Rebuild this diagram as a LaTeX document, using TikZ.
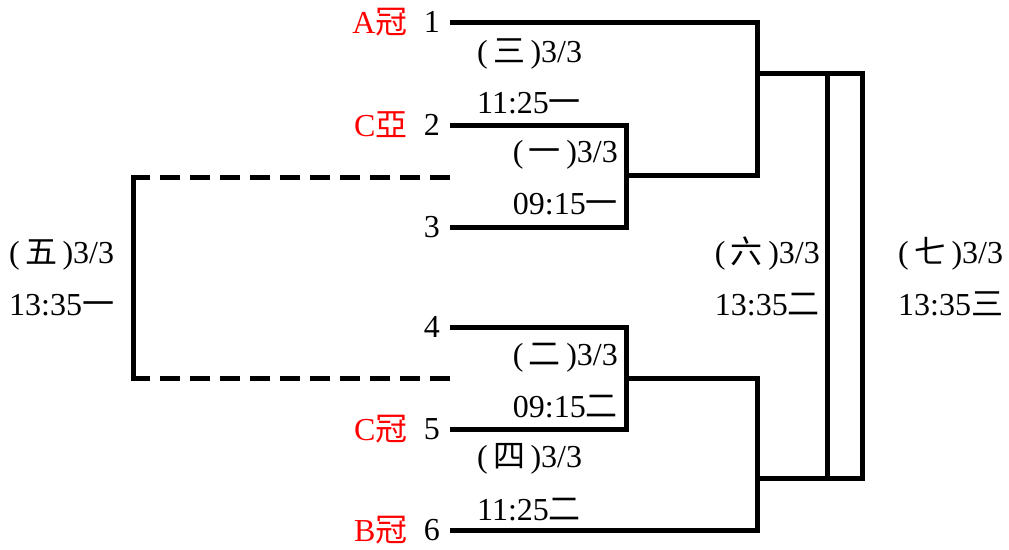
\documentclass[tikz,border=0pt]{standalone}
\usepackage{fontspec}
\setmainfont{Liberation Serif}
\newfontfamily\cjk{Noto Sans CJK TC}
\usepackage{tikz}
\usetikzlibrary{positioning}
\definecolor{TeamRed}{HTML}{FF0000}

\begin{document}
\begin{tikzpicture}[x=1pt, y=-1pt, every node/.style={font=\fontsize{32}{35}\selectfont, inner sep=0pt}, wire/.style={line width=5pt}, bye/.style={line width=5pt, dash pattern=on 20pt off 10pt}, seed/.style={left=10pt of #1}, team/.style={text=TeamRed, left=16pt of #1}, lbl/.style={anchor=base west}, rlbl/.style={anchor=base east}]
\useasboundingbox (0,0) rectangle (1009,549);
% line ends of the six seeds
\coordinate (e1) at (450,22); \coordinate (e2) at (450,125); \coordinate (e3) at (450,227);
\coordinate (e4) at (450,327); \coordinate (e5) at (450,429); \coordinate (e6) at (450,530);
\coordinate (r1) at (626,175); \coordinate (r2) at (626,378);
\coordinate (j1) at (757,175); \coordinate (j2) at (757,378);
\coordinate (s1) at (757,73); \coordinate (s2) at (757,478);
\coordinate (f1) at (862,73); \coordinate (f2) at (862,478);
\coordinate (m1) at (827,73); \coordinate (m2) at (827,478);
\coordinate (d1) at (450,177); \coordinate (d2) at (133,177); \coordinate (d3) at (133,378); \coordinate (d4) at (450,378);
% seeds and teams
\node[seed=e1] (n1) {1}; \node[team=n1] (t1) {A{\cjk 冠}};
\node[seed=e2] (n2) {2}; \node[team=n2] (t2) {C{\cjk 亞}};
\node[seed=e3] (n3) {3};
\node[seed=e4] (n4) {4};
\node[seed=e5] (n5) {5}; \node[team=n5] (t5) {C{\cjk 冠}};
\node[seed=e6] (n6) {6}; \node[team=n6] (t6) {B{\cjk 冠}};
% brackets
\draw[wire] (e2) -| (r1) |- (e3); \draw[wire] (e4) -| (r2) |- (e5);
\draw[wire] (e1) -| (j1) -- (r1); \draw[wire] (e6) -| (j2) -- (r2);
\draw[wire] (s1) -- (f1) -- (f2) -- (s2); \draw[wire] (m1) -- (m2);
\draw[bye] (d1) -- (d2); \draw[bye] (d4) -- (d3); \draw[wire, line cap=rect] (d2) -- (d3);
% match labels
\node[rlbl] (g1a) at (618,162) {(\,{\cjk 一}\,)3/3}; \node[rlbl] (g1b) at (618,214) {09:15{\cjk 一}};
\node[rlbl] (g2a) at (618,365) {(\,{\cjk 二}\,)3/3}; \node[rlbl] (g2b) at (618,417) {09:15{\cjk 二}};
\node[lbl] (g3a) at (477,62) {(\,{\cjk 三}\,)3/3}; \node[lbl] (g3b) at (477,113) {11:25{\cjk 一}};
\node[lbl] (g4a) at (477,467) {(\,{\cjk 四}\,)3/3}; \node[lbl] (g4b) at (477,520) {11:25{\cjk 二}};
\node[lbl] (g5a) at (9,263) {(\,{\cjk 五}\,)3/3}; \node[lbl] (g5b) at (9,315) {13:35{\cjk 一}};
\node[rlbl] (g6a) at (820,263) {(\,{\cjk 六}\,)3/3}; \node[rlbl] (g6b) at (820,315) {13:35{\cjk 二}};
\node[lbl] (g7a) at (898,263) {(\,{\cjk 七}\,)3/3}; \node[lbl] (g7b) at (898,315) {13:35{\cjk 三}};
\end{tikzpicture}
\end{document}
